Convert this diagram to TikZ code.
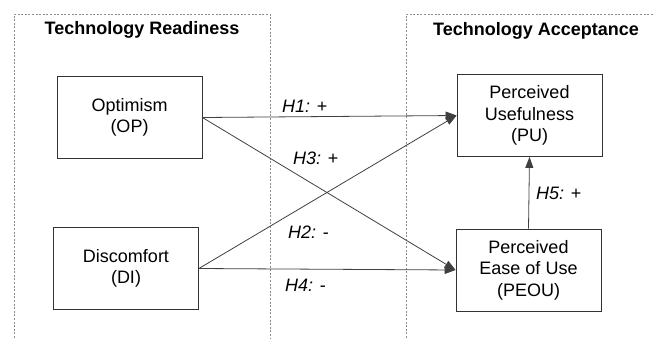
\documentclass[tikz,border=0pt]{standalone}
\usepackage{fontspec}
\setmainfont{Liberation Sans}
\usetikzlibrary{arrows.meta}
\begin{document}
\begin{tikzpicture}[x=1pt,y=-1pt,
  box/.style={draw=black!80, line width=0.8pt, minimum width=145pt, minimum height=82pt,
    align=center, inner sep=0pt, font=\fontsize{18}{21.5}\selectfont},
  group/.style={draw=black!45, line width=0.8pt, dash pattern=on 2pt off 1.6pt},
  title/.style={font=\fontsize{18}{21}\selectfont\bfseries, inner sep=0pt},
  lab/.style={font=\fontsize{18}{21}\selectfont, inner sep=0pt, anchor=west},
  link/.style={draw=black!75, line width=0.8pt, -{Triangle[length=11pt,width=8pt]}}]
  \useasboundingbox (0,0) rectangle (653,338);
  % group frames, open at the page edges
  \draw[group] (14,338) -- (14,14) -- (270,14) -- (270,338);
  \draw[group] (406,338) -- (406,14) -- (653,14);
  \node[title] (tr) at (142,30) {Technology Readiness};
  \node[title] (ta) at (536,31) {Technology Acceptance};
  % constructs
  \node[box] (op) at (129.5,117.5) {Optimism\\(OP)};
  \node[box] (di) at (126,268.5) {Discomfort\\(DI)};
  \node[box] (pu) at (529.5,115.5) {Perceived\\Usefulness\\(PU)};
  \node[box] (peou) at (528.5,270) {Perceived\\Ease of Use\\(PEOU)};
  % hypotheses
  \draw[link] (op.east) -- (pu.west);
  \draw[link] (op.east) -- (peou.west);
  \draw[link] (di.east) -- (pu.west);
  \draw[link] (di.east) -- (peou.west);
  \draw[link] (peou.north) -- (pu.south);
  \node[lab] (h1) at (282,106) {\textit{H1:} +};
  \node[lab] (h3) at (293,158) {\textit{H3:} +};
  \node[lab] (h2) at (288,232) {\textit{H2:} -};
  \node[lab] (h4) at (285,285) {\textit{H4:} -};
  \node[lab] (h5) at (536,193) {\textit{H5:} +};
\end{tikzpicture}
\end{document}
